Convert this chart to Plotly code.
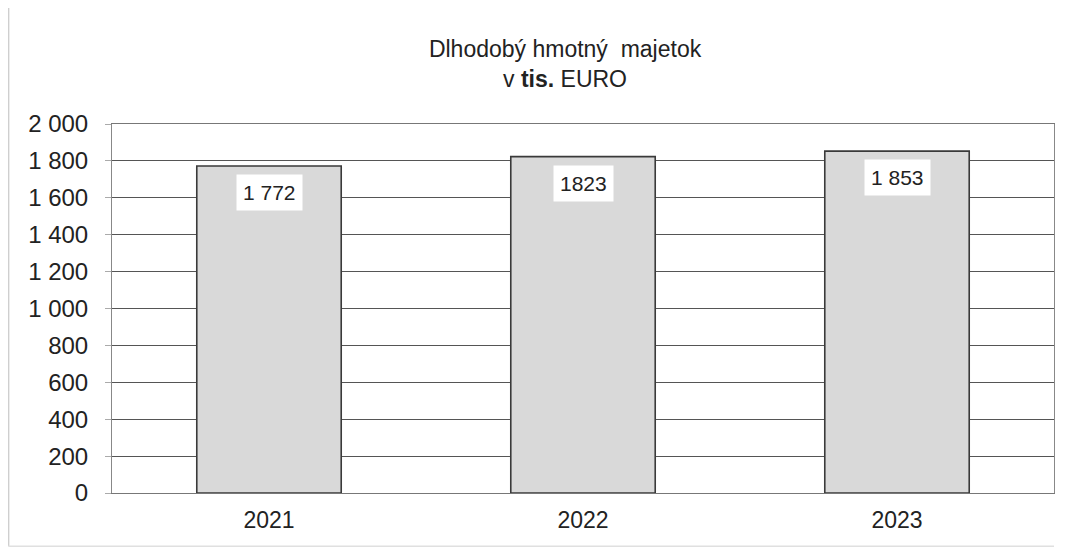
import plotly.graph_objects as go

years = ["2021", "2022", "2023"]
values = [1772, 1823, 1853]
value_labels = ["1 772", "1823", "1 853"]
y_ticks = [0, 200, 400, 600, 800, 1000, 1200, 1400, 1600, 1800, 2000]
y_tick_labels = ["0", "200", "400", "600", "800", "1 000", "1 200", "1 400", "1 600", "1 800", "2 000"]

FONT = "Liberation Sans, Arial, sans-serif"

fig = go.Figure()
fig.add_trace(go.Bar(
    x=years, y=values,
    marker=dict(color="#d9d9d9", line=dict(color="#3a3a3a", width=1.6)),
    hoverinfo="skip",
))

# value labels (category axis positions are indices of the categories)
for i, (v, lab) in enumerate(zip(values, value_labels)):
    fig.add_annotation(
        x=i, y=v, xref="x", yref="y", text=lab, showarrow=False,
        yanchor="top", yshift=-8,
        font=dict(family=FONT, size=21, color="#222"),
        bgcolor="white", borderpad=6,
    )

fig.update_layout(
    width=1059, height=543,
    margin=dict(l=104, r=13, t=116, b=58, autoexpand=False),
    paper_bgcolor="white", plot_bgcolor="white",
    showlegend=False,
    font=dict(family=FONT, size=23, color="#222"),
    title=dict(
        text="Dlhodobý hmotný\u00a0 majetok<br>v <b>tis.</b> EURO",
        x=0.526, xanchor="center", y=0.909, yanchor="middle",
        font=dict(family=FONT, size=23, color="#222"),
    ),
    xaxis=dict(
        type="category", categoryorder="array", categoryarray=years,
        range=[-0.5, 2.5], autorange=False,
        showline=True, linecolor="#777", linewidth=1, mirror=True,
        ticks="", tickfont=dict(size=23), showgrid=False,
        ticklabelstandoff=6,
    ),
    yaxis=dict(
        range=[0, 2000], tickvals=y_ticks, ticktext=y_tick_labels,
        showline=True, linecolor="#888", linewidth=1, mirror=True,
        ticks="outside", ticklen=6, tickcolor="#aaa",
        gridcolor="#555", gridwidth=1, zeroline=False,
        tickfont=dict(size=24), ticklabelstandoff=12,
    ),
    bargap=0.54,
)

# outer chart frame (light gray, left and bottom)
fig.add_shape(type="line", xref="paper", yref="paper", x0=-0.11, x1=-0.11, y0=-0.144, y1=1.33,
              line=dict(color="#cfcfcf", width=2))
fig.add_shape(type="line", xref="paper", yref="paper", x0=-0.11, x1=1.0, y0=-0.144, y1=-0.144,
              line=dict(color="#e0e0e0", width=1.5))

fig.write_html("out.html")
